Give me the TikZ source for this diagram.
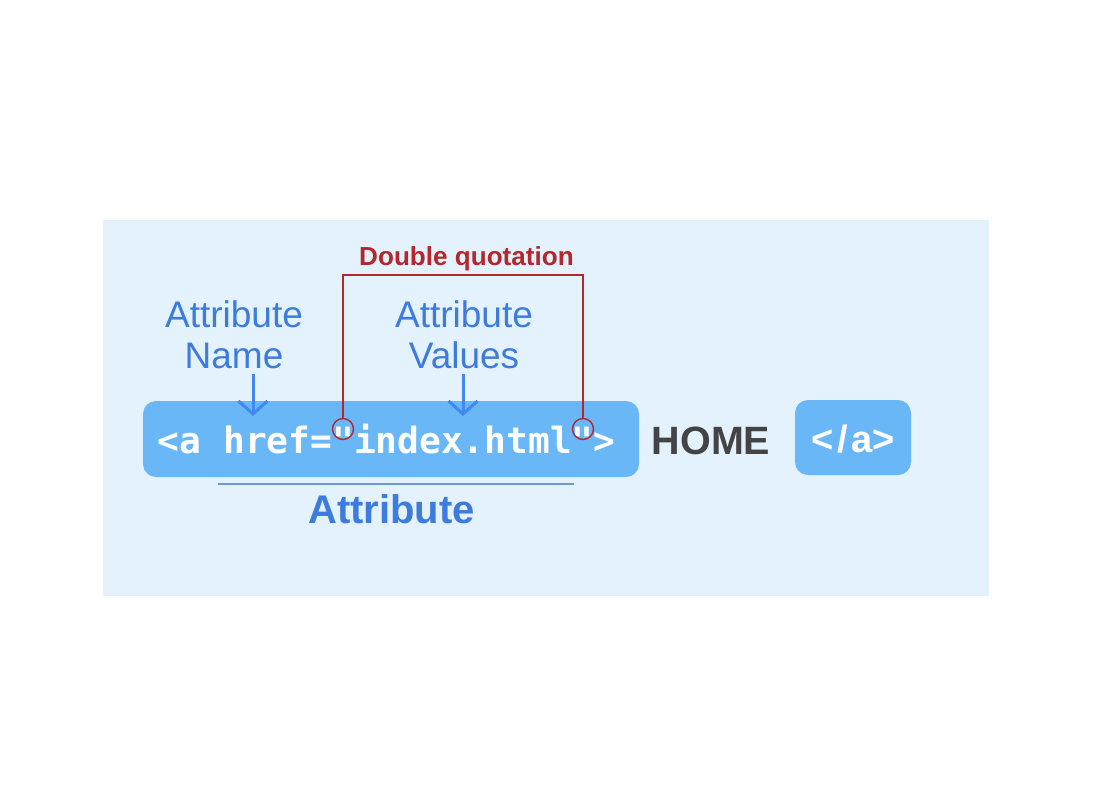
\documentclass[tikz,border=0pt]{standalone}
\usepackage{fontspec}
\setmainfont{Liberation Sans}
\newfontfamily\codefont{DejaVu Sans Mono}
\usetikzlibrary{arrows.meta}
\definecolor{panelbg}{HTML}{E3F2FD}
\definecolor{boxblue}{HTML}{6AB7F8}
\definecolor{labelblue}{HTML}{3D7CDD}
\definecolor{arrowblue}{HTML}{4387F0}
\definecolor{quotered}{HTML}{B3272D}
\definecolor{homegray}{HTML}{444444}
\definecolor{ulineblue}{HTML}{6A9BD0}
\tikzset{
  codebox/.style={fill=boxblue, rounded corners=13pt, inner sep=0pt},
  bluelabel/.style={text=labelblue, align=center, inner sep=0pt, font=\fontsize{37}{41}\selectfont},
  bluearrow/.style={draw=arrowblue, line width=3pt, -{Straight Barb[length=13pt,width=29pt,line width=3pt]}},
  redline/.style={draw=quotered, line width=1.4pt},
  qcircle/.style={circle, draw=quotered, line width=1.4pt, minimum size=21pt, inner sep=0pt},
}
\begin{document}
\begin{tikzpicture}[x=1pt,y=-1pt]
\useasboundingbox (0,0) rectangle (1104,804);
\fill[white] (0,0) rectangle (1104,804);
\fill[panelbg] (103,220) rectangle (989,596);
% code box
\node[codebox, minimum width=496pt, minimum height=76pt] (code) at (391,439) {};
\node[anchor=base west, inner sep=0pt, text=white, font=\codefont\bfseries\fontsize{36.2}{40}\selectfont] (codetxt) at (157.7,453) {<a href="index.html">};
% HOME
\node[anchor=base, inner sep=0pt, text=homegray, font=\bfseries\fontsize{39.5}{42}\selectfont] (home) at (711,454) {HOME};
% closing tag
\node[codebox, minimum width=116pt, minimum height=75pt] (close) at (853,437.5) {};
\node[anchor=base, inner sep=0pt, text=white, font=\bfseries\fontsize{38}{42}\selectfont] (closetxt) at (853.5,452) {<\hspace{3.5pt}/\hspace{3.5pt}a>};
% labels
\node[bluelabel, anchor=base] (attrname) at (234,368) {Attribute\\Name};
\node[bluelabel, anchor=base] (attrval) at (464,368) {Attribute\\Values};
\coordinate (a1s) at (253,374);
\coordinate (a1e) at (253,416);
\coordinate (a2s) at (463,374);
\coordinate (a2e) at (463,416);
\draw[bluearrow] (a1s) -- (a1e);
\draw[bluearrow] (a2s) -- (a2e);
% double quotation
\node[anchor=base, inner sep=0pt, text=quotered, font=\bfseries\fontsize{26.1}{30}\selectfont] (dq) at (466.5,265) {Double quotation};
\node[qcircle] (q1) at (343,429) {};
\node[qcircle] (q2) at (583,429) {};
\coordinate (brk) at (464,275);
\draw[redline] (q1.north) -- (q1.north |- brk) -| (q2.north);
% attribute underline
\coordinate (ul1) at (218,484);
\coordinate (ul2) at (574,484);
\draw[draw=ulineblue, line width=1.6pt] (ul1) -- (ul2);
\node[anchor=base, inner sep=0pt, text=labelblue, font=\bfseries\fontsize{40}{44}\selectfont] (attr) at (391.5,523) {Attribute};
\end{tikzpicture}
\end{document}
